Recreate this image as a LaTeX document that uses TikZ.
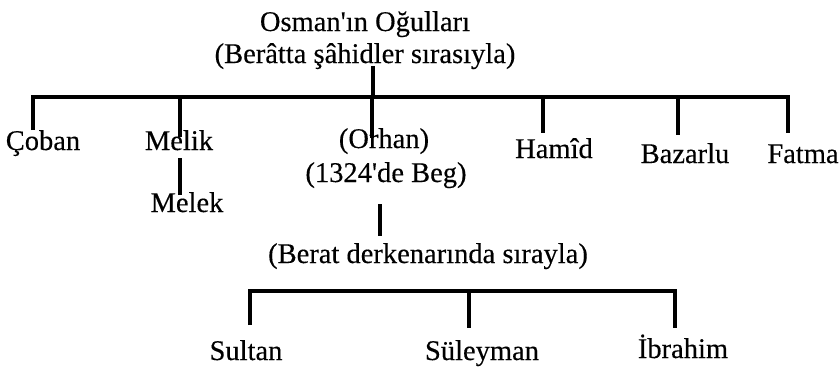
\documentclass[tikz,border=0pt]{standalone}
\usepackage{fontspec}
\setmainfont{Liberation Serif}[FakeBold=0.3]
\usetikzlibrary{calc}
\tikzset{
  kin/.style={font=\fontsize{28.5}{32}\selectfont, anchor=base, inner sep=0pt},
  bond/.style={line width=3.4pt, line join=miter},
}
\begin{document}
\begin{tikzpicture}[x=1pt,y=-1pt]
\useasboundingbox (0,0) rectangle (840,375);

% Osman and his sons
\node[kin] (osman) at (365,31) {Osman\textquotesingle ın Oğulları};
\node[kin] (sahid) at (365,63) {(Berâtta şâhidler sırasıyla)};
\node[kin] (coban) at (43,150) {Çoban};
\node[kin] (melik) at (179,150) {Melik};
\node[kin] (melek) at (187,212) {Melek};
\node[kin] (orhan) at (384,148) {(Orhan)};
\node[kin] (beg) at (386,182) {(1324\textquotesingle de Beg)};
\node[kin] (hamid) at (554,158) {Hamîd};
\node[kin] (bazarlu) at (685,163) {Bazarlu};
\node[kin] (fatma) at (803,163) {Fatma};

% Orhan's sons
\node[kin] (derkenar) at (428,263) {(Berat derkenarında sırayla)};
\node[kin] (sultan) at (246,360) {Sultan};
\node[kin] (suleyman) at (482,360) {Süleyman};
\node[kin] (ibrahim) at (683,358) {İbrahim};

% first bar
\coordinate (top) at (373,66);
\coordinate (j) at (373,97);
\coordinate (b1) at (33,97);
\coordinate (b2) at (180,97);
\coordinate (b3) at (372,97);
\coordinate (b4) at (543,97);
\coordinate (b5) at (678,97);
\coordinate (b6) at (788,97);
\draw[bond] (top) -- (j);
\draw[bond] ($(b1)+(0,33)$) -- (b1) -- (b6) -- ($(b6)+(0,36)$);
\draw[bond] (b2) -- ++(0,40);
\draw[bond] (b3) -- ++(0,41);
\draw[bond] (b4) -- ++(0,36);
\draw[bond] (b5) -- ++(0,38);
\draw[bond] (180,158) -- (180,195);

% second bar
\coordinate (o1) at (380,204);
\coordinate (o2) at (380,236);
\coordinate (s1) at (250,291);
\coordinate (s2) at (469,291);
\coordinate (s3) at (675,291);
\draw[bond] (o1) -- (o2);
\draw[bond] ($(s1)+(0,34)$) -- (s1) -- (s3) -- ($(s3)+(0,37)$);
\draw[bond] (s2) -- ++(0,37);

\end{tikzpicture}
\end{document}
